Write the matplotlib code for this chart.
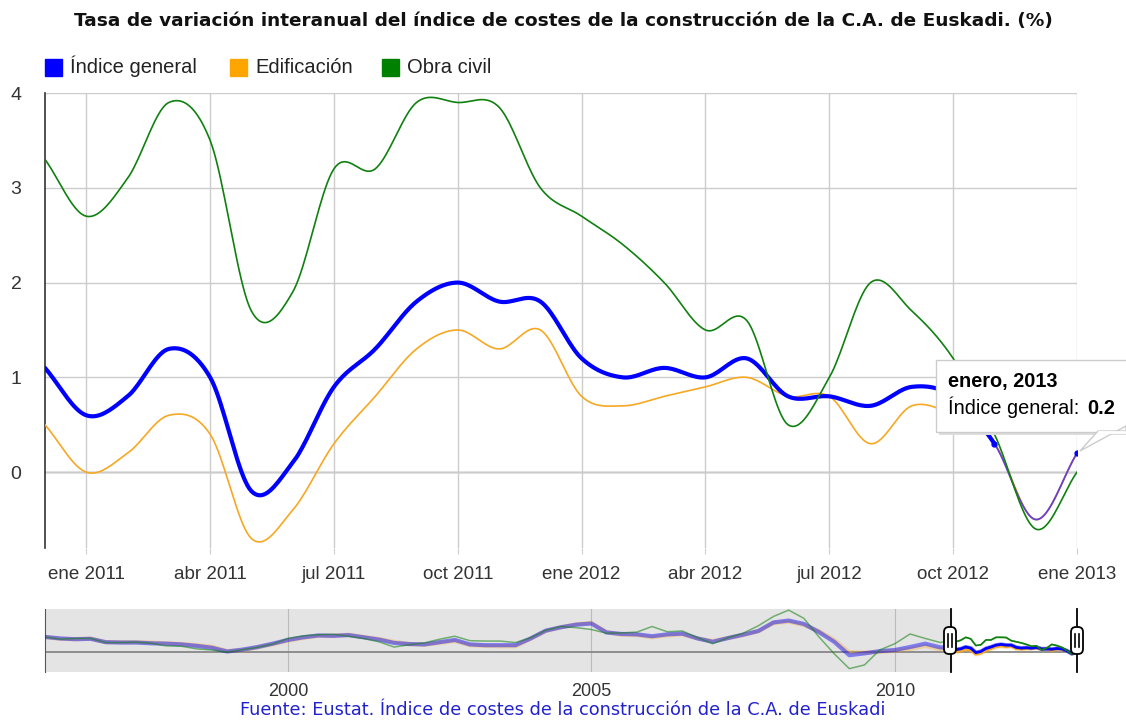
import numpy as np
import matplotlib
matplotlib.use("Agg")
import matplotlib.pyplot as plt
from matplotlib.patches import Rectangle, FancyBboxPatch, Polygon

# datos mensuales: dic 2010 .. ene 2013
general = [1.1,
           0.6, 0.8, 1.3, 1.0, -0.2, 0.1, 0.9, 1.3, 1.8, 2.0, 1.8, 1.8,
           1.2, 1.0, 1.1, 1.0, 1.2, 0.8, 0.8, 0.7, 0.9, 0.8, 0.3, -0.5,
           0.2]
edificacion = [0.5,
               0.0, 0.2, 0.6, 0.4, -0.7, -0.4, 0.3, 0.8, 1.3, 1.5, 1.3, 1.5,
               0.8, 0.7, 0.8, 0.9, 1.0, 0.8, 0.8, 0.3, 0.7, 0.6, 0.3, -0.5,
               0.2]
obra_civil = [3.3,
              2.7, 3.1, 3.9, 3.5, 1.7, 1.9, 3.2, 3.2, 3.9, 3.9, 3.85, 3.0,
              2.7, 2.4, 2.0, 1.5, 1.6, 0.5, 1.0, 2.0, 1.7, 1.2, 0.4, -0.6,
              0.0]

tick_pos = [1, 4, 7, 10, 13, 16, 19, 22, 25]
tick_labels = ['ene 2011', 'abr 2011', 'jul 2011', 'oct 2011', 'ene 2012',
               'abr 2012', 'jul 2012', 'oct 2012', 'ene 2013']

# serie historica trimestral (navegador) 1996T1 .. 2010T4
hist_general = [4.0, 3.6, 3.4, 3.5, 2.6, 2.5, 2.5, 2.3, 2.2, 2.0, 1.6, 1.1,
                0.1, 0.6, 1.3, 2.2, 3.2, 3.9, 4.4, 4.3, 4.5, 3.9, 3.3, 2.4,
                2.1, 2.0, 2.6, 3.2, 2.0, 1.8, 1.8, 1.8, 3.6, 5.7, 6.6, 7.3,
                7.6, 5.2, 4.8, 4.7, 4.2, 4.7, 4.9, 3.6, 2.7, 3.7, 4.6, 5.6,
                7.9, 8.4, 7.5, 5.3, 2.7, -0.9, -0.4, 0.2, 0.5, 1.3, 2.2, 1.2]
hist_edificacion = [4.0, 3.5, 3.4, 3.6, 2.6, 2.6, 2.6, 2.5, 2.3, 2.1, 1.8, 1.4,
                    0.2, 0.4, 1.2, 2.0, 3.0, 3.7, 4.3, 4.3, 4.6, 4.0, 3.5, 2.7,
                    2.1, 1.9, 2.4, 2.9, 1.8, 1.6, 1.5, 1.5, 3.5, 5.6, 6.6, 7.4,
                    7.8, 5.3, 4.6, 4.5, 3.9, 4.4, 4.7, 3.6, 2.9, 3.7, 4.5, 5.5,
                    7.7, 8.1, 7.2, 5.6, 3.2, -0.1, -0.2, 0.0, 0.3, 0.8, 1.6, 0.7]
hist_obra = [4.0, 3.4, 3.6, 3.6, 2.5, 2.5, 2.6, 2.3, 1.6, 1.5, 0.8, 0.5,
             -0.1, 0.6, 1.2, 2.1, 3.6, 4.3, 4.6, 4.7, 4.2, 3.6, 2.7, 1.3,
             1.9, 2.4, 3.4, 4.2, 3.0, 2.9, 2.9, 2.5, 3.8, 5.8, 6.8, 6.5,
             6.0, 5.0, 5.1, 5.3, 6.8, 5.4, 5.6, 3.8, 2.2, 3.8, 5.0, 7.0,
             9.5, 11.2, 9.0, 4.0, -0.5, -4.5, -3.5, 0.5, 2.2, 4.8, 3.6, 2.5]

AZUL = '#0000ff'
NARANJA = '#f7a823'
VERDE = '#108010'


def suave(y, n=20):
    # curva tipo catmull-rom entre puntos mensuales
    y = np.asarray(y, float)
    p = np.concatenate([[2 * y[0] - y[1]], y, [2 * y[-1] - y[-2]]])
    t = np.linspace(0, 1, n, endpoint=False)
    h00 = 2 * t**3 - 3 * t**2 + 1
    h10 = t**3 - 2 * t**2 + t
    h01 = -2 * t**3 + 3 * t**2
    h11 = t**3 - t**2
    xs, ys = [], []
    for i in range(len(y) - 1):
        m1 = (p[i + 2] - p[i]) / 2
        m2 = (p[i + 3] - p[i + 1]) / 2
        ys.append(h00 * p[i + 1] + h10 * m1 + h01 * p[i + 2] + h11 * m2)
        xs.append(i + t)
    xs.append([len(y) - 1])
    ys.append([y[-1]])
    return np.concatenate(xs), np.concatenate(ys)


fig = plt.figure(figsize=(11.26, 7.2), dpi=100)
W, H = 1126, 720

ax = fig.add_axes([45 / W, 1 - 548 / H, 1032 / W, 455 / H])
ax.set_xlim(0, 25)
ax.set_ylim(-0.8, 4.0)
ax.set_yticks([0, 1, 2, 3, 4])
ax.set_xticks(tick_pos, tick_labels)
ax.grid(True, color='#cccccc', lw=1.0, zorder=0)
for s in ['top', 'right', 'bottom']:
    ax.spines[s].set_visible(False)
ax.spines['left'].set_color('#333333')
ax.spines['left'].set_linewidth(1.2)
ax.axhline(0, color='#333333', lw=0.9, zorder=1)
ax.tick_params(axis='y', length=0, pad=17, labelsize=14, labelcolor='#333333')
ax.tick_params(axis='x', length=4, color='#cccccc', pad=9, labelsize=13.5,
               labelcolor='#333333')
for lab in ax.get_xticklabels() + ax.get_yticklabels():
    lab.set_fontfamily('Liberation Sans')

xs, ye = suave(edificacion)
ax.plot(xs, ye, color=NARANJA, lw=1.2, zorder=3)
xs, yg = suave(general)
corte = 23
m = xs <= corte
ax.plot(xs[m], yg[m], color=AZUL, lw=3.0, zorder=4, solid_capstyle='round')
m2 = xs >= corte
ax.plot(xs[m2], yg[m2], color='#6a40d0', lw=1.3, zorder=4)
xs, yo = suave(obra_civil)
ax.plot(xs, yo, color=VERDE, lw=1.2, zorder=5)
ax.plot([23, 25], [general[23], general[25]], 'o', color=AZUL, ms=3.5, zorder=6)

# navegador
nav = fig.add_axes([45 / W, 1 - 672 / H, 1032 / W, 63 / H])
nav.set_xlim(1996, 2013)
nav.set_ylim(-5.4, 11.5)
inicio = 2010 + 11 / 12
nav.add_patch(Rectangle((1996, -5.4), inicio - 1996, 16.9, color='#e4e4e4', zorder=0))
for yr in [2000, 2005, 2010]:
    nav.axvline(yr, color='#bbbbbb', lw=0.8, zorder=1)
nav.axhline(0, color='#888888', lw=1.3, zorder=1)
for s in ['top', 'right', 'bottom']:
    nav.spines[s].set_visible(False)
nav.spines['left'].set_color('#555555')
nav.set_yticks([])
nav.set_xticks([2000, 2005, 2010], ['2000', '2005', '2010'])
nav.tick_params(axis='x', length=0, pad=8, labelsize=13, labelcolor='#333333')
for lab in nav.get_xticklabels():
    lab.set_fontfamily('Liberation Sans')

t_hist = 1996 + np.arange(len(hist_general)) * 0.25
t_mes = inicio + np.arange(len(general)) / 12
tn = np.concatenate([t_hist, t_mes])
ng = np.concatenate([hist_general, general])
ne = np.concatenate([hist_edificacion, edificacion])
no = np.concatenate([hist_obra, obra_civil])
nav.plot(tn, ne, color=NARANJA, lw=3, alpha=0.35, zorder=2)
nav.plot(tn, ng, color=AZUL, lw=3, alpha=0.45, zorder=3)
nav.plot(tn, no, color=VERDE, lw=1.1, alpha=0.55, zorder=4)
nav.plot(t_mes, edificacion, color=NARANJA, lw=1.5, zorder=5)
nav.plot(t_mes, general, color=AZUL, lw=2.0, zorder=6)
nav.plot(t_mes, obra_civil, color=VERDE, lw=1.2, zorder=7)
for xv in [inicio, 2013]:
    nav.axvline(xv, color='black', lw=1.3, zorder=8, clip_on=False)

# capa en pixeles para leyenda, tooltip, manejadores
ov = fig.add_axes([0, 0, 1, 1])
ov.set_xlim(0, W)
ov.set_ylim(H, 0)
ov.axis('off')
ov.patch.set_alpha(0)

fig.text(0.5, 1 - 21 / H, 'Tasa de variación interanual del índice de costes de la '
         'construcción de la C.A. de Euskadi. (%)', ha='center', va='center',
         fontsize=13.3, fontweight='bold', family='DejaVu Sans', color='#111111')

for x0, col, txt in [(45, AZUL, 'Índice general'), (230, '#ffa500', 'Edificación'),
                     (382, '#008000', 'Obra civil')]:
    ov.add_patch(Rectangle((x0, 59), 17, 17, color=col))
    ov.text(x0 + 25, 73, txt, ha='left', va='baseline', fontsize=14.5,
            family='Liberation Sans', color='#222222')

for xh in [950, 1077]:
    ov.add_patch(FancyBboxPatch((xh - 6, 627), 12, 27, boxstyle='round,pad=0,rounding_size=5',
                                fc='white', ec='black', lw=1.3, zorder=10))
    ov.plot([xh - 2, xh - 2], [634, 647], color='black', lw=1.2, zorder=11)
    ov.plot([xh + 2, xh + 2], [634, 647], color='black', lw=1.2, zorder=11)

# tooltip
ov.add_patch(Rectangle((939, 363), 200, 72, fc='#dddddd', ec='none', zorder=11))
ov.add_patch(Rectangle((936, 360), 200, 72, fc='white', ec='#cccccc', lw=1, zorder=12))
ov.add_patch(Polygon([(1080, 451), (1098, 431), (1126, 431), (1126, 426)], closed=True,
                     fc='white', ec='#cccccc', lw=1, zorder=12))
ov.plot([1099, 1126], [432, 432], color='white', lw=2, zorder=13)
ov.text(948, 387, 'enero, 2013', ha='left', va='baseline', fontsize=14.3,
        fontweight='bold', family='Liberation Sans', color='black', zorder=14)
ov.text(948, 414, 'Índice general:', ha='left', va='baseline', fontsize=14.3,
        family='Liberation Sans', color='black', zorder=14)
ov.text(1087, 414, '0.2', ha='left', va='baseline', fontsize=14.3,
        fontweight='bold', family='Liberation Sans', color='black', zorder=14)

fig.text(0.5, 1 - 710 / H, 'Fuente: Eustat. Índice de costes de la construcción de la '
         'C.A. de Euskadi', ha='center', va='center', fontsize=12.8,
         family='DejaVu Sans', color='#2222cc')

fig.savefig('out.png', dpi=100)
